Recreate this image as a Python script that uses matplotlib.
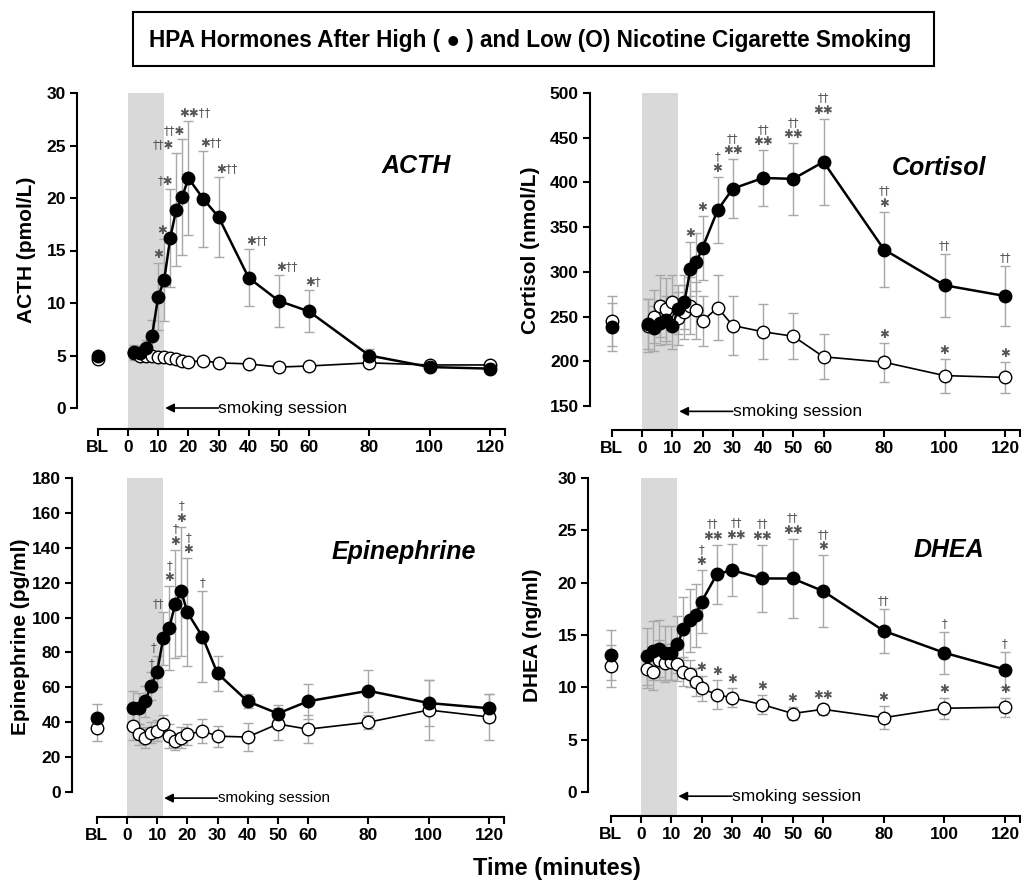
import matplotlib
matplotlib.use("Agg")
import matplotlib.pyplot as plt
from matplotlib.patches import Rectangle
import numpy as np

W, H = 1021, 882
plt.rcParams.update({
    "font.family": ["Liberation Sans", "DejaVu Sans"],
    "font.size": 12,
    "figure.facecolor": "white",
})

# ---------------- data ----------------
BL_POS = -10
times = [2, 4, 6, 8, 10, 12, 14, 16, 18, 20, 25, 30, 40, 50, 60, 80, 100, 120]
xtick_pos = [-10, 0, 10, 20, 30, 40, 50, 60, 80, 100, 120, 125]
xtick_labels = ["BL", "0", "10", "20", "30", "40", "50", "60", "80", "100", "120", ""]

# ACTH (pmol/L)
acth_hi_bl, acth_hi_bl_err = 5.0, 0.3
acth_lo_bl, acth_lo_bl_err = 4.7, 0.3
acth_hi = [5.3, 5.2, 5.7, 6.9, 10.6, 12.2, 16.2, 18.9, 20.1, 21.9, 19.9, 18.2, 12.4, 10.2, 9.2, 5.0, 3.9, 3.75]
acth_hi_err = [0.7, 0.6, 0.8, 1.5, 3.2, 3.9, 4.7, 5.4, 5.5, 5.4, 4.6, 3.8, 2.7, 2.5, 2.0, 0.6, 0.2, 0.2]
acth_lo = [5.2, 5.0, 5.0, 4.95, 4.9, 4.9, 4.8, 4.7, 4.5, 4.4, 4.5, 4.3, 4.2, 3.9, 4.0, 4.3, 4.1, 4.1]
acth_lo_err = [0.5, 0.4, 0.4, 0.4, 0.3, 0.3, 0.3, 0.3, 0.3, 0.3, 0.3, 0.3, 0.3, 0.3, 0.3, 0.3, 0.2, 0.2]
# (time, label, horizontal shift of the label in pixels)
acth_hi_marks = [(10, "✱", 0), (12, "✱", -2), (14, "†✱", -5), (16, "††✱", -13),
                 (18, "††✱", -8), (20, "✱✱††", 7), (25, "✱††", 8), (30, "✱††", 8),
                 (40, "✱††", 8), (50, "✱††", 8), (60, "✱†", 4)]
acth_lo_marks = []

# Cortisol (nmol/L)
cort_hi_bl, cort_hi_bl_err = 238, 27
cort_lo_bl, cort_lo_bl_err = 245, 28
cort_hi = [242, 237, 243, 246, 240, 258, 266, 303, 311, 327, 369, 393, 405, 404, 423, 325, 285, 273]
cort_hi_err = [28, 25, 25, 27, 26, 27, 30, 30, 32, 36, 37, 33, 31, 40, 48, 42, 35, 34]
cort_lo = [240, 250, 262, 258, 266, 248, 255, 262, 257, 245, 260, 240, 233, 228, 205, 199, 184, 182]
cort_lo_err = [30, 30, 35, 35, 30, 30, 30, 32, 32, 28, 36, 33, 31, 26, 25, 22, 19, 17]
cort_hi_marks = [(16, "✱", 0), (20, "✱", 0), (25, "†\n✱", 0), (30, "††\n✱✱", 0),
                 (40, "††\n✱✱", 0), (50, "††\n✱✱", 0), (60, "††\n✱✱", 0),
                 (80, "††\n✱", 0), (100, "††", 0), (120, "††", 0)]
cort_lo_marks = [(80, "✱", 0), (100, "✱", 0), (120, "✱", 0)]

# Epinephrine (pg/ml)
epi_hi_bl, epi_hi_bl_err = 42.5, 8
epi_lo_bl, epi_lo_bl_err = 36.5, 7
epi_hi = [48, 48, 52, 61, 69, 88, 94, 108, 115, 103, 89, 68, 52, 45, 52, 58, 51, 48]
epi_hi_err = [10, 9, 9, 8, 9, 15, 24, 31, 37, 31, 26, 10, 4, 5, 10, 12, 13, 8]
epi_lo = [38, 33, 31, 34, 35, 39, 32, 29, 31, 33, 35, 32, 31.5, 39, 36, 40, 47, 43]
epi_lo_err = [8, 6, 6, 6, 6, 5, 7, 5, 6, 6, 7, 6, 8, 9, 8, 4, 17, 13]
epi_hi_marks = [(8, "†", 0), (10, "†", -4), (12, "††", -5), (14, "†\n✱", 0),
                (16, "†\n✱", 0), (18, "†\n✱", 0), (20, "†\n✱", 1), (25, "†", 0)]
epi_lo_marks = []

# DHEA (ng/ml)
dhea_hi_bl, dhea_hi_bl_err = 13.1, 2.4
dhea_lo_bl, dhea_lo_bl_err = 12.0, 2.0
dhea_hi = [12.96, 13.5, 13.7, 13.3, 13.3, 14.1, 15.6, 16.4, 16.9, 18.2, 20.8, 21.2, 20.4, 20.4, 19.2, 15.4, 13.3, 11.7]
dhea_hi_err = [2.7, 2.8, 2.7, 2.6, 2.6, 2.7, 3.0, 3.0, 3.0, 3.0, 2.8, 2.5, 3.2, 3.8, 3.4, 2.1, 2.0, 1.7]
dhea_lo = [11.75, 11.5, 12.6, 12.3, 12.4, 12.2, 11.5, 11.3, 10.5, 9.9, 9.3, 9.0, 8.35, 7.5, 7.9, 7.1, 8.0, 8.1]
dhea_lo_err = [1.8, 1.8, 1.9, 1.8, 1.7, 1.6, 1.4, 1.3, 1.3, 1.2, 1.4, 0.9, 0.9, 0.6, 0.5, 1.1, 1.0, 0.9]
dhea_hi_marks = [(20, "†\n✱", 0), (25, "††\n✱✱", -4), (30, "††\n✱✱", 4),
                 (40, "††\n✱✱", 0), (50, "††\n✱✱", 0), (60, "††\n✱", 0),
                 (80, "††", 0), (100, "†", 0), (120, "†", 0)]
dhea_lo_marks = [(20, "✱", 0), (25, "✱", 0), (30, "✱", 0), (40, "✱", 0), (50, "✱", 0),
                 (60, "✱✱", 0), (80, "✱", 0), (100, "✱", 0), (120, "✱", 0)]

fig = plt.figure(figsize=(W / 100, H / 100), dpi=100)


def fx(px):
    return px / W


def fy(py):
    return 1 - py / H


def panel(g, yticks, ylabel, title, title_xy, ylabel_xy, arrow_y, smoke_fs,
          hi, hi_err, lo, lo_err, hi_bl, lo_bl, hi_marks, lo_marks):
    s = (g["x120"] - g["x0"]) / 120.0
    xl = (g["spine"] - g["x0"]) / s
    xr = 126
    right_px = g["x0"] + xr * s
    ytop, ybot = yticks[-1], yticks[0]
    sy = (g["ybot_px"] - g["ytop_px"]) / (ytop - ybot)
    yb = ybot - (g["xaxis_px"] - g["ybot_px"]) / sy
    yt = ytop + 6 / sy
    top_px = g["ytop_px"] - 6
    ax = fig.add_axes([fx(g["spine"]), fy(g["xaxis_px"]),
                       (right_px - g["spine"]) / W, (g["xaxis_px"] - top_px) / H])
    ax.set_xlim(xl, xr)
    ax.set_ylim(yb, yt)
    ax.patch.set_alpha(0)
    for sp in ["top", "right"]:
        ax.spines[sp].set_visible(False)
    ax.spines["left"].set_bounds(ybot, ytop)
    ax.spines["bottom"].set_bounds(-10, 125)
    for sp in ["left", "bottom"]:
        ax.spines[sp].set_linewidth(1.5)
    ax.set_xticks(xtick_pos)
    ax.set_xticklabels(xtick_labels)
    ax.set_yticks(yticks)
    ax.tick_params(direction="out", length=5, width=1.5, labelsize=12.5, pad=3)
    for lab in ax.get_xticklabels() + ax.get_yticklabels():
        lab.set_fontweight("bold")

    # smoking session shading
    ax.fill_between([0, 12], yb, ytop, color="#d9d9d9", lw=0, zorder=0)

    ecol = "#a8a8a8"
    # low nicotine (open)
    ax.errorbar(times, lo, yerr=lo_err, fmt="none", ecolor=ecol, elinewidth=1,
                capsize=3.5, capthick=1, zorder=2)
    ax.errorbar([BL_POS], [lo_bl[0]], yerr=[lo_bl[1]], fmt="none", ecolor=ecol,
                elinewidth=1, capsize=3.5, capthick=1, zorder=2)
    ax.plot(times, lo, "-o", color="black", lw=1.2, ms=9, mfc="white", mec="black",
            mew=1, zorder=3)
    ax.plot([BL_POS], [lo_bl[0]], "o", ms=9, mfc="white", mec="black", mew=1, zorder=3)
    # high nicotine (filled)
    ax.errorbar(times, hi, yerr=hi_err, fmt="none", ecolor=ecol, elinewidth=1,
                capsize=3.5, capthick=1, zorder=2)
    ax.errorbar([BL_POS], [hi_bl[0]], yerr=[hi_bl[1]], fmt="none", ecolor=ecol,
                elinewidth=1, capsize=3.5, capthick=1, zorder=2)
    ax.plot(times, hi, "-o", color="black", lw=1.8, ms=9, mfc="black", zorder=4)
    ax.plot([BL_POS], [hi_bl[0]], "o", ms=9, mfc="black", mec="black", zorder=4)

    # significance marks, set just above the upper error cap
    for vals, errs, marks in [(hi, hi_err, hi_marks), (lo, lo_err, lo_marks)]:
        for t, txt, shift in marks:
            i = times.index(t)
            ax.annotate(txt, (t, vals[i] + errs[i]), xytext=(shift, 2),
                        textcoords="offset pixels", ha="center", va="bottom",
                        fontsize=8.5, color="#555555", linespacing=0.95,
                        family=["DejaVu Sans"], zorder=5)

    # smoking session arrow
    ax.annotate("", xy=(12.3, arrow_y), xytext=(30, arrow_y),
                arrowprops=dict(arrowstyle="-|>", color="black", lw=1.2,
                                mutation_scale=13, shrinkA=0, shrinkB=0))
    ax.text(30, arrow_y, "smoking session", ha="left", va="center", fontsize=smoke_fs)

    fig.text(fx(title_xy[0]), fy(title_xy[1]), title, ha="center", va="center",
             fontsize=18, fontweight="bold", style="italic")
    fig.text(fx(ylabel_xy[0]), fy(ylabel_xy[1]), ylabel, ha="center", va="center",
             rotation=90, fontsize=15, fontweight="bold")
    return ax


panel(dict(spine=77, x0=128, x120=490, ytop_px=93, ybot_px=408, xaxis_px=429),
      np.arange(0, 31, 5), "ACTH (pmol/L)", "ACTH", (416, 166), (26, 250), 0, 12.5,
      acth_hi, acth_hi_err, acth_lo, acth_lo_err,
      (acth_hi_bl, acth_hi_bl_err), (acth_lo_bl, acth_lo_bl_err),
      acth_hi_marks, acth_lo_marks)

panel(dict(spine=590, x0=642, x120=1005, ytop_px=93, ybot_px=406, xaxis_px=430),
      np.arange(150, 501, 50), "Cortisol (nmol/L)", "Cortisol", (939, 168), (531, 250), 144, 12.5,
      cort_hi, cort_hi_err, cort_lo, cort_lo_err,
      (cort_hi_bl, cort_hi_bl_err), (cort_lo_bl, cort_lo_bl_err),
      cort_hi_marks, cort_lo_marks)

panel(dict(spine=72, x0=127, x120=489, ytop_px=478, ybot_px=792, xaxis_px=817),
      np.arange(0, 181, 20), "Epinephrine (pg/ml)", "Epinephrine", (404, 552), (21, 637), -3.5, 11,
      epi_hi, epi_hi_err, epi_lo, epi_lo_err,
      (epi_hi_bl, epi_hi_bl_err), (epi_lo_bl, epi_lo_bl_err),
      epi_hi_marks, epi_lo_marks)

panel(dict(spine=588, x0=641, x120=1005, ytop_px=478, ybot_px=792, xaxis_px=816),
      np.arange(0, 31, 5), "DHEA (ng/ml)", "DHEA", (949, 550), (532, 635), -0.4, 12.5,
      dhea_hi, dhea_hi_err, dhea_lo, dhea_lo_err,
      (dhea_hi_bl, dhea_hi_bl_err), (dhea_lo_bl, dhea_lo_bl_err),
      dhea_hi_marks, dhea_lo_marks)

# title box
fig.patches.append(Rectangle((fx(133), fy(66)), (934 - 133) / W, (66 - 12) / H,
                             transform=fig.transFigure, fill=False,
                             edgecolor="black", lw=1.5))
fig.text(fx(530), fy(40), "HPA Hormones After High ( \u25cf ) and Low (O) Nicotine Cigarette Smoking",
         ha="center", va="center", fontsize=16.3, fontweight="bold")

fig.text(fx(557), fy(868), "Time (minutes)", ha="center", va="center",
         fontsize=17, fontweight="bold")

fig.savefig("out.png", dpi=100)
